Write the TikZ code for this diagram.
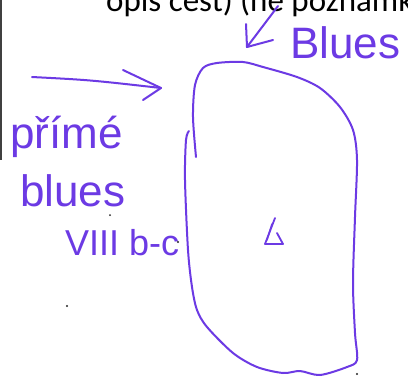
\documentclass[tikz,border=0pt]{standalone}
\usepackage{fontspec}
\setmainfont{Liberation Sans}
\newfontfamily\printfont{Carlito}
\definecolor{pen}{RGB}{108,58,228}
\begin{document}
\begin{tikzpicture}[x=1pt,y=-1pt,
  penline/.style={draw=pen,line width=2pt,line cap=round,line join=round},
  hand/.style={text=pen,inner sep=0pt,anchor=base west},
  speck/.style={fill=black!85,draw=none}]
\useasboundingbox (0,0) rectangle (408,376);
\clip (0,0) rectangle (408,376);
\fill[white] (0,0) rectangle (408,376);
% scan edge
\draw[line width=2.5pt,black!75] (1,0) -- (1,160);
% printed text cut at the top
\node[anchor=base west,inner sep=0pt,font=\printfont\fontsize{33}{33}\selectfont] (top) at (106,11) {opis cest) (ne poznámk};
% handwritten labels
\node[hand,font=\fontsize{44}{44}\selectfont] (blues) at (290,58) {Blues};
\node[hand,font=\fontsize{44}{44}\selectfont] (prime) at (10,148) {přímé};
\node[hand,font=\fontsize{44}{44}\selectfont] (blues2) at (20,206) {blues};
\node[hand,font=\fontsize{36}{36}\selectfont] (viii) at (65,255) {VIII b-c};
% arrows
\coordinate (a1s) at (278,6);
\coordinate (a1e) at (247,47);
\draw[penline] (a1s) -- (a1e);
\draw[penline] (246,24) -- (a1e) -- (273,40);
\coordinate (a2s) at (32,77);
\coordinate (a2e) at (161,88);
\draw[penline] (a2s) .. controls (90,80) .. (a2e);
\draw[penline] (123,70) -- (a2e) -- (143,100);
% blob
\draw[penline] plot[smooth] coordinates {(196,157) (193,117) (195,85) (203,68) (217,63) (243,62) (263,67) (297,77) (320,88) (340,107) (353,130) (357,160) (355,217) (353,283) (355,333) (357,360) (347,367) (320,375) (300,371) (283,373) (257,367) (233,353) (207,327) (197,310) (192,287) (188,250) (185,180) (186,140) (189,131)};
% small mark in the middle
\node[inner sep=0pt] (mark) at (272,232) {};
\draw[penline,line width=1.8pt] (275,218) -- (265,244) -- (283,244) -- (277,233);
\draw[penline,line width=1.5pt] (272,224) -- (267,240);
% specks
\fill[speck] (67,306) circle (1.2);
\fill[speck] (110,215) circle (1);
\fill[speck] (178,242) circle (1.2);
\fill[speck] (357,374) circle (1.2);
\end{tikzpicture}
\end{document}
